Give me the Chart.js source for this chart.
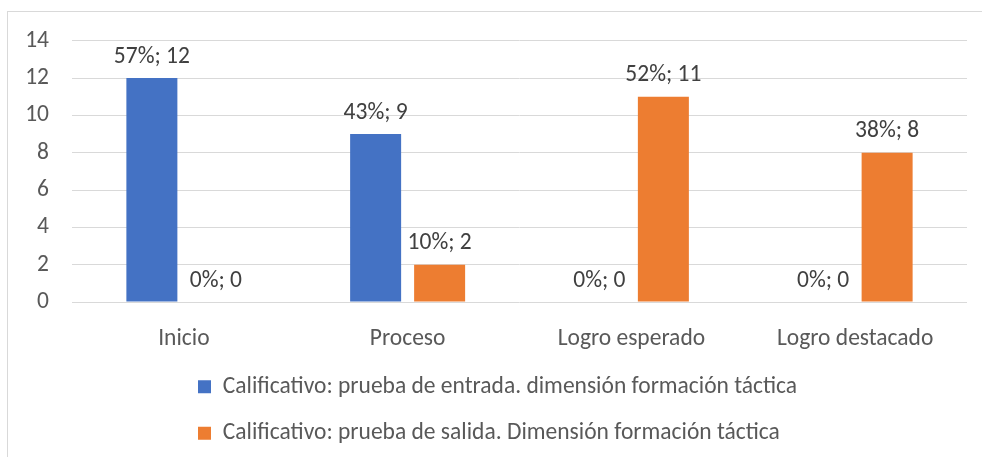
<!DOCTYPE html>
<html>
<head>
<meta charset="utf-8">
<script src="https://cdn.jsdelivr.net/npm/chart.js@4"></script>
<style>
  body { margin: 0; background: #fff; overflow: hidden; }
  #wrap { position: relative; width: 982px; height: 457px; }
  #frame { position: absolute; left: 7px; top: 11px; width: 1000px; height: 500px; border: 1px solid #d9d9d9; }
  #mychart { position: absolute; left: 0; top: 0; }
</style>
</head>
<body>
<div id="wrap">
  <div id="frame"></div>
  <canvas id="mychart" width="982" height="457"></canvas>
</div>
<script>
// categories along the x-axis
var niveles = ['Inicio', 'Proceso', 'Logro esperado', 'Logro destacado'];
// counts per series
var entrada = [12, 9, 0, 0];
var salida = [0, 2, 11, 8];
// percentages shown in the labels
var pctEntrada = [57, 43, 0, 0];
var pctSalida = [0, 10, 52, 38];
var yTicks = [0, 2, 4, 6, 8, 10, 12, 14];

var fontFam = 'Carlito, Calibri, "Liberation Sans", sans-serif';
var fs = 23.5;

// "57%; 12" labels above the bars
var barLabels = {
  id: 'barLabels',
  afterDatasetsDraw: function(chart) {
    var c = chart.ctx;
    c.save();
    c.font = fs + 'px ' + fontFam;
    c.fillStyle = '#404040';
    c.textAlign = 'center';
    c.textBaseline = 'alphabetic';
    chart.data.datasets.forEach(function(ds, i) {
      chart.getDatasetMeta(i).data.forEach(function(bar, j) {
        c.fillText(ds.pct[j] + '%; ' + ds.data[j], bar.x, bar.y - 15.5);
      });
    });
    c.restore();
  }
};

// push the legend rows to the left like the original
var legendShift = {
  id: 'legendShift',
  afterLayout: function(chart) {
    chart.legend.left = 175;
    chart.legend.top += 2;
  }
};

var ctx = document.getElementById('mychart');
var myChart = new Chart(ctx, {
  type: 'bar',
  data: {
    labels: niveles,
    datasets: [{
      label: 'Calificativo: prueba de entrada. dimensión formación táctica',
      data: entrada,
      pct: pctEntrada,
      backgroundColor: '#4472c4'
    }, {
      label: 'Calificativo: prueba de salida. Dimensión formación táctica',
      data: salida,
      pct: pctSalida,
      backgroundColor: '#ed7d31'
    }]
  },
  options: {
    responsive: false,
    animation: false,
    categoryPercentage: 0.572,
    barPercentage: 0.797,
    layout: { padding: { left: 0, right: 15, top: 40.7, bottom: 4 } },
    plugins: {
      tooltip: { enabled: false },
      legend: {
        position: 'bottom',
        align: 'start',
        maxHeight: 109,
        labels: {
          font: { family: fontFam, size: fs },
          color: '#595959',
          boxWidth: 13,
          boxHeight: 13,
          padding: 23
        }
      }
    },
    scales: {
      x: {
        grid: { display: false },
        border: { display: false },
        ticks: { font: { family: fontFam, size: fs }, color: '#595959', padding: 15 },
        afterFit: function(s) { s.height = 48; }
      },
      y: {
        min: 0,
        max: 14,
        grid: { color: '#d9d9d9', drawTicks: false },
        border: { display: false },
        ticks: {
          font: { family: fontFam, size: fs },
          color: '#595959',
          padding: 23,
          stepSize: 2,
          callback: function(v) { return yTicks.indexOf(v) >= 0 ? v : ''; }
        },
        afterFit: function(s) { s.width = 72; }
      }
    }
  },
  plugins: [barLabels, legendShift]
});
</script>
</body>
</html>
